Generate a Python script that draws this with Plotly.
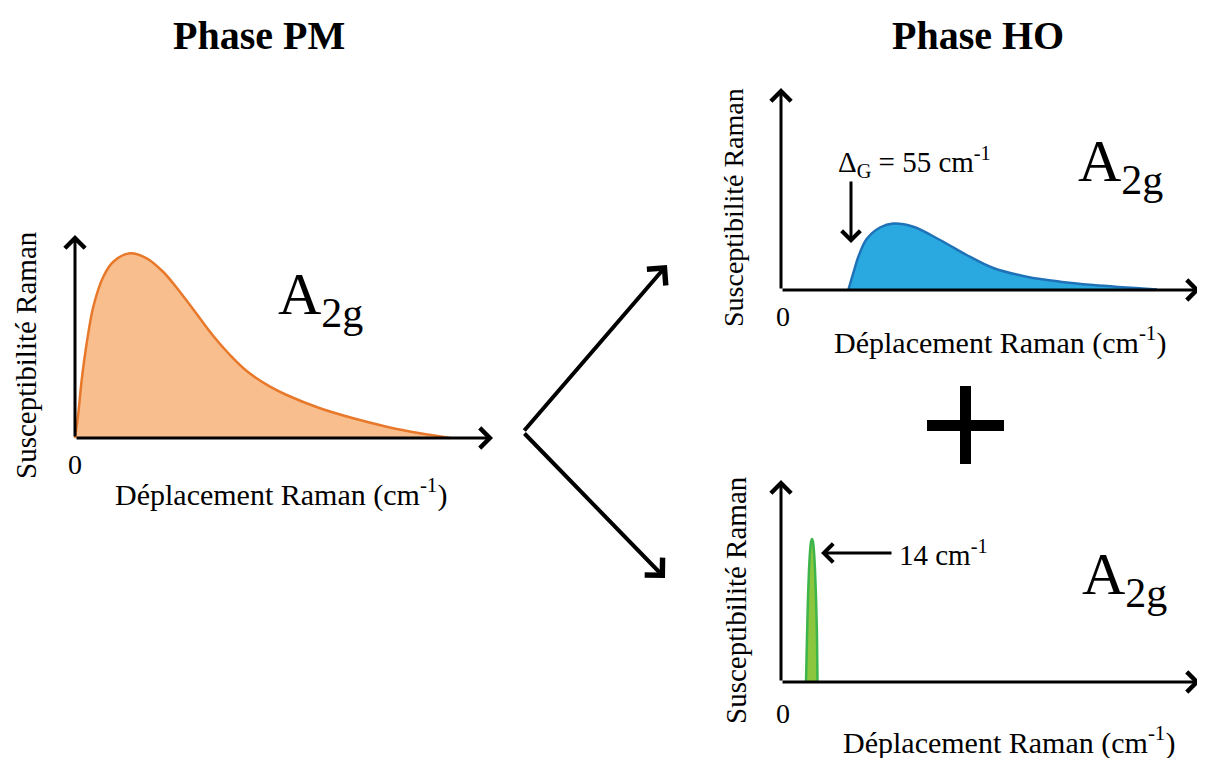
import plotly.graph_objects as go

# page size and the default 8px body margin of the html page
PAGE_W, PAGE_H = 1205, 758
OFF = 8
W, H = PAGE_W - OFF, PAGE_H - OFF

# ---- data (arbitrary units) ----
pm_x = [0, 3.3, 6.7, 11.7, 18.3, 28.3, 38.3, 55, 71.7, 88.3, 105, 121.7, 138.3, 155,
        171.7, 195, 211.7, 245, 278.3, 311.7, 345, 375]
pm_y = [0, 24.7, 58, 94.7, 131.3, 161.3, 176.3, 184.7, 179.7, 166, 146, 124, 102, 83,
        67, 51.3, 43, 29.7, 19.7, 11.3, 4.7, 0]

ho_x = [67.3, 72.3, 78, 85.7, 99, 112.3, 132.3, 159, 185.7, 212.3, 245.7, 279, 312.3, 376]
ho_y = [0, 17, 35, 51, 62.5, 66.5, 63.3, 50, 35, 22, 13.3, 8.3, 5, 0.5]

pk_x = [25, 26, 27, 28, 29, 30, 31, 32, 33, 34, 35, 36, 36.5]
pk_y = [0, 45, 85, 112, 130, 140, 143, 140, 130, 112, 85, 45, 0]

x_label = "Déplacement Raman (cm<sup>-1</sup>)"
y_label = "Susceptibilité Raman"
mode_label = "A<sub>2g</sub>"
gap_label = "Δ<sub>G</sub> = 55 cm<sup>-1</sup>"
peak_label = "14 cm<sup>-1</sup>"
titles = ["Phase PM", "Phase HO"]

SERIF = "Liberation Serif, Times New Roman, serif"

# panel geometry: origin pixel (page), axis lengths (px)
panels = [
    dict(ox=75, oy=438, xlen=418, ylen=203),
    dict(ox=781, oy=290, xlen=419, ylen=202),
    dict(ox=781, oy=682, xlen=419, ylen=202),
]
PAD = 12
PADR = 4


def px(x):
    return (x - OFF) / W


def py(y):
    return 1 - (y - OFF) / H


fig = go.Figure()

series = [
    (pm_x, pm_y, "#E8782A", "#F8BE8E"),
    (ho_x, ho_y, "#1F72B8", "#2AA9E0"),
    (pk_x, pk_y, "#3DB54A", "#8CC63F"),
]

layout_axes = {}
for i, (p, (sx, sy, lc, fc)) in enumerate(zip(panels, series), start=1):
    xa = "x" if i == 1 else f"x{i}"
    ya = "y" if i == 1 else f"y{i}"
    fig.add_trace(go.Scatter(
        x=sx, y=sy, mode="lines", line=dict(color=lc, width=2.5, shape="spline", smoothing=1.0),
        fill="tozeroy", fillcolor=fc, xaxis=xa, yaxis=ya, showlegend=False, hoverinfo="skip"))
    xd = [px(p["ox"] - PAD), px(p["ox"] + p["xlen"] + PADR)]
    yd = [py(p["oy"] + PAD), py(p["oy"] - p["ylen"] - PADR)]
    xname = "xaxis" if i == 1 else f"xaxis{i}"
    yname = "yaxis" if i == 1 else f"yaxis{i}"
    layout_axes[xname] = dict(domain=xd, range=[-PAD, p["xlen"] + PADR], visible=False,
                              anchor=ya, fixedrange=True)
    layout_axes[yname] = dict(domain=yd, range=[-PAD, p["ylen"] + PADR], visible=False,
                              anchor=xa, fixedrange=True)
    # axis arrows
    for (tx, ty) in [(p["xlen"], 0), (0, p["ylen"])]:
        fig.add_annotation(x=tx, y=ty, ax=0, ay=0, xref=xa, yref=ya, axref=xa, ayref=ya,
                           text="", showarrow=True, arrowhead=4, arrowsize=1.3,
                           arrowwidth=3, arrowcolor="black", standoff=0)

fig.update_layout(**layout_axes)


def txt(x, y, s, size, xanchor="center", yanchor="middle", angle=0, bold=False):
    fig.add_annotation(x=px(x), y=py(y), xref="paper", yref="paper", text=s,
                       showarrow=False, xanchor=xanchor, yanchor=yanchor, textangle=angle,
                       font=dict(family=SERIF, size=size, color="black",
                                 weight="bold" if bold else "normal"))


# titles
txt(259, 36, titles[0], 40, bold=True)
txt(978, 36, titles[1], 40, bold=True)

# panel 1 text
txt(75, 465, "0", 28)
txt(281, 493, x_label, 30)
txt(26, 355, y_label, 29, angle=-90)
txt(276, 298, mode_label, 60, xanchor="left")

# panel 2 text
txt(783, 316, "0", 28)
txt(1000, 340, x_label, 30)
txt(734, 208, y_label, 28, angle=-90)
txt(1076, 165, mode_label, 60, xanchor="left")
txt(836, 162, gap_label, 29, xanchor="left")

# panel 3 text
txt(783, 713, "0", 28)
txt(1009, 740, x_label, 30)
txt(736, 600, y_label, 29, angle=-90)
txt(1080, 578, mode_label, 60, xanchor="left")
txt(897, 553, peak_label, 29, xanchor="left")


def arrow(tail, tip, width):
    fig.add_annotation(x=px(tip[0]), y=py(tip[1]), xref="paper", yref="paper",
                       ax=tail[0] - tip[0], ay=tail[1] - tip[1], axref="pixel", ayref="pixel",
                       text="", showarrow=True, arrowhead=4, arrowsize=1.2,
                       arrowwidth=width, arrowcolor="black", standoff=0)


# branching arrows
arrow((523, 432), (667, 265), 4)
arrow((523, 432), (665, 578), 4)
# annotation arrows
arrow((851, 180), (851, 243), 3)
arrow((893, 553), (821, 553), 3)

# plus sign
fig.add_shape(type="rect", xref="paper", yref="paper", x0=px(927), x1=px(1004),
              y0=py(431), y1=py(420), fillcolor="black", line=dict(width=0))
fig.add_shape(type="rect", xref="paper", yref="paper", x0=px(960), x1=px(971),
              y0=py(464), y1=py(386), fillcolor="black", line=dict(width=0))

fig.update_layout(width=W, height=H, margin=dict(l=0, r=0, t=0, b=0),
                  paper_bgcolor="white", plot_bgcolor="rgba(0,0,0,0)")

fig.write_html("out.html", config={"displayModeBar": False})
